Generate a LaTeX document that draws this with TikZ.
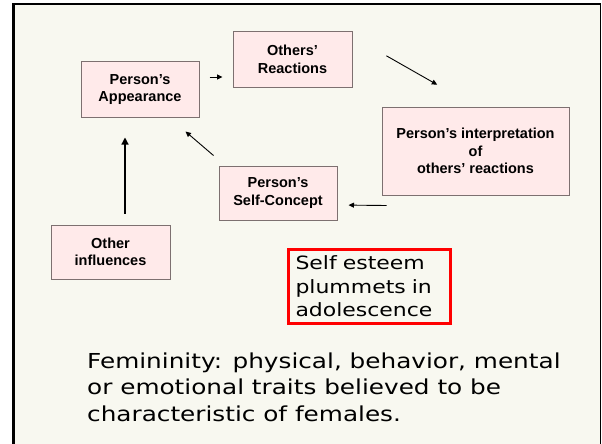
\documentclass[tikz,border=0pt]{standalone}
\usepackage{fontspec}
\setmainfont{Liberation Sans}
\newfontfamily\slidefont[FakeStretch=1.2]{DejaVu Sans}
\usepackage{tikz}
\usetikzlibrary{arrows.meta}
\definecolor{slidebg}{RGB}{248,248,240}
\definecolor{boxfill}{RGB}{255,234,234}
\definecolor{boxline}{RGB}{125,112,112}

\begin{document}
\begin{tikzpicture}[
  x=1pt,y=-1pt,
  block/.style={draw=boxline,line width=1pt,fill=boxfill,align=center,inner sep=0pt,
    font=\bfseries\fontsize{14.5}{17.5}\selectfont},
  note/.style={draw=red,line width=3pt,align=left,inner xsep=7pt,inner ysep=0pt,
    text width=148pt,minimum height=74pt,font=\slidefont\fontsize{18.3}{23.5}\selectfont},
  to/.style={-{Triangle[length=5.5pt,width=5pt]},line width=0.9pt},
  bigto/.style={-{Triangle[length=7pt,width=7pt]},line width=1.2pt}]

  \useasboundingbox (0,0) rectangle (602,444);

  % Slide background and frame
  \fill[slidebg] (13,4) rectangle (601,450);
  \draw[line width=3pt] (13.5,450) -- (13.5,4);
  \draw[line width=2pt] (12,4) -- (601,4);
  \draw[line width=1.5pt] (600.5,4) -- (600.5,450);

  % Position the nodes at their places on the slide
  \node[block,minimum width=118pt,minimum height=55pt] (app) at (140,89.5) {Person’s\\Appearance};
  \node[block,minimum width=119pt,minimum height=55pt] (rea) at (292.5,59.5) {Others’\\Reactions};
  \node[block,minimum width=187pt,minimum height=88pt] (int) at (475.5,151) {Person’s interpretation\\of\\others’ reactions};
  \node[block,minimum width=118pt,minimum height=54pt] (self) at (278,193) {Person’s\\Self-Concept};
  \node[block,minimum width=119pt,minimum height=54pt] (other) at (110.5,252) {Other\\influences};
  \node[note] (esteem) at (369.5,286.5) {Self esteem\\plummets in\\adolescence};
  \node[anchor=west,align=left,inner sep=0pt,font=\slidefont\fontsize{20.6}{26.5}\selectfont] (defn) at (87,387)
    {Femininity: physical, behavior, mental\\or emotional traits believed to be\\characteristic of females.};

  % Draw the arrows between the nodes
  \draw[to,shorten <=10pt,shorten >=10pt] ([yshift=12.5pt]app.east) -- ([yshift=-17.5pt]rea.west);
  \draw[to,shorten <=39pt,shorten >=44pt] ([yshift=-5pt]rea.north east) -- (int.north);
  \draw[to,shorten >=11pt] ([xshift=5pt,yshift=-10pt]int.south west) -- ([yshift=-12pt]self.east);
  \draw[to] ([xshift=-5pt,yshift=10pt]self.north west) -- ([xshift=-14pt,yshift=-14pt]app.south east);
  \draw[bigto] ([xshift=14.5pt,yshift=11pt]other.north) -- ([xshift=-15pt,yshift=-20pt]app.south);
\end{tikzpicture}
\end{document}
